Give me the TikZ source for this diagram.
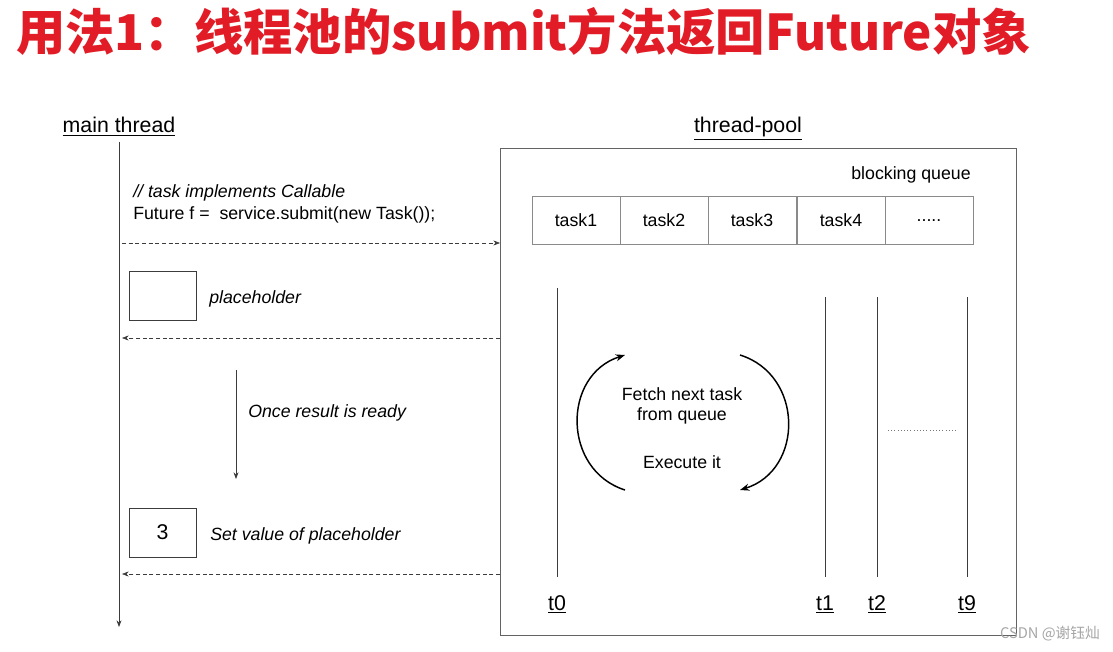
\documentclass[tikz,border=0pt]{standalone}
\usepackage{fontspec}
\setmainfont{Liberation Sans}
\newfontfamily\cjk{Noto Sans CJK SC}
\usetikzlibrary{arrows.meta}
\definecolor{titlered}{RGB}{226,28,38}
\definecolor{ln}{RGB}{60,60,60}
\newcommand\fivedots{\raisebox{-2pt}{.....}}
\begin{document}
\begin{tikzpicture}[x=0.75pt,y=-0.75pt,
  lbl/.style={inner sep=0,font=\fontsize{13.3}{15.5}\selectfont},
  it/.style={lbl,font=\fontsize{13.3}{15.5}\selectfont\itshape,anchor=west},
  hd/.style={inner sep=0,font=\fontsize{16}{18}\selectfont},
  dasharrow/.style={draw=ln,dash pattern=on 3pt off 2pt,-{Stealth[length=5pt]}},
  ln/.style={draw=ln,line width=0.6pt},
  cell/.style={draw=ln!60,minimum width=66pt,minimum height=36pt,inner sep=0,font=\fontsize{13.3}{15.5}\selectfont}]
\useasboundingbox[fill=white] (0,0) rectangle (1113,652);
\node[inner sep=0,anchor=west,text=titlered,font=\cjk\bfseries\fontsize{37}{40}\selectfont] (title) at (16,32) {用法1：线程池的submit方法返回Future对象};
\node[hd,anchor=base] (mt) at (119,133) {\underline{main thread}};
\node[hd,anchor=base] (tp) at (748,133) {\underline{thread-pool}};
\coordinate (mtop) at (119,142); \coordinate (mbot) at (119,627);
\draw[ln,-{Stealth[length=5pt]}] (mtop) -- (mbot);
\node[draw=ln!80,minimum width=387pt,minimum height=365pt,anchor=north west,inner sep=0] (pool) at (500,148) {};
\node[lbl] (bq) at (911,175) {blocking queue};
\foreach \n/\x in {task1/576,task2/664,task3/752,task4/841,\fivedots/929}{
  \node[cell] (c\x) at (\x,220) {\n};}
\node[it] (c1) at (133,193) {// task implements Callable};
\node[lbl,anchor=west] (c2) at (133,215) {Future f =\ \ service.submit(new Task());};
\coordinate (a1s) at (122,243); \coordinate (a1e) at (500,243);
\draw[dasharrow] (a1s) -- (a1e);
\node[draw=ln,minimum width=50pt,minimum height=37pt,inner sep=0] (ph) at (162.5,295.5) {};
\node[it] (pht) at (209,299) {placeholder};
\coordinate (a2s) at (500,338); \coordinate (a2e) at (122,338);
\draw[dasharrow] (a2s) -- (a2e);
\coordinate (rs) at (236,370); \coordinate (re) at (236,479);
\draw[ln,-{Stealth[length=5pt]}] (rs) -- (re);
\node[it] (rr) at (248,413) {Once result is ready};
\node[draw=ln,minimum width=50pt,minimum height=37pt,inner sep=0,font=\fontsize{16}{18}\selectfont] (v3) at (162.5,532.5) {3};
\node[it] (sv) at (210,536) {Set value of placeholder};
\coordinate (a3s) at (500,574); \coordinate (a3e) at (122,574);
\draw[dasharrow] (a3s) -- (a3e);
\foreach \t/\x/\y in {t0/557/288,t1/825/297,t2/877/297,t9/967/297}{
  \coordinate (\t top) at (\x,\y); \coordinate (\t bot) at (\x,577);
  \draw[ln] (\t top) -- (\t bot);
  \node[hd,anchor=base] (\t) at (\x,610) {\underline{\t}};}
\coordinate (d1) at (888,430); \coordinate (d2) at (958,430);
\draw[ln!70,dotted] (d1) -- (d2);
\coordinate (l1) at (625,490); \coordinate (l2) at (625,355);
\coordinate (r1) at (740,355); \coordinate (r2) at (740,490);
\draw[line width=1.1pt,-{Stealth[length=7pt]}] (l1) .. controls (562,470) and (562,375) .. (l2);
\draw[line width=1.1pt,-{Stealth[length=7pt]}] (r1) .. controls (804,375) and (804,470) .. (r2);
\node[lbl,align=center] (fn) at (682,406) {Fetch next task\\from queue};
\node[lbl] (ex) at (682,462) {Execute it};
\node[inner sep=0,text=gray!70,font=\cjk\fontsize{11}{13}\selectfont,anchor=east] (wm) at (1100,634) {CSDN @谢钰灿};
\end{tikzpicture}
\end{document}
